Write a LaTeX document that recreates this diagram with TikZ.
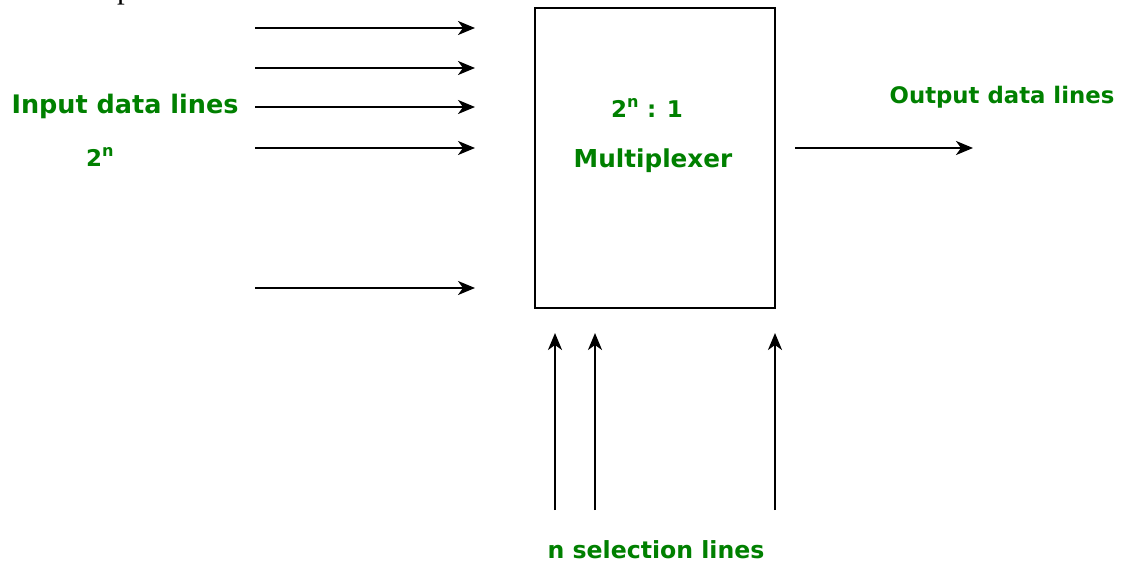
\documentclass[tikz,border=0pt]{standalone}
\usepackage{fontspec}
\setmainfont{DejaVu Sans}
\newfontfamily\serifcut{Liberation Serif}
\usetikzlibrary{arrows.meta}
\definecolor{gfggreen}{RGB}{0,128,0}
\tikzset{
  conn/.style={line width=2.2pt, -{Stealth[length=17pt,width=14pt,inset=5pt]}},
  lbl/.style={text=gfggreen, anchor=base, inner sep=0pt, font=\bfseries\fontsize{#1}{#1}\selectfont},
  lbl/.default=24,
  muxbox/.style={draw, line width=2.2pt, minimum width=240pt, minimum height=300pt, inner sep=0pt}
}
\begin{document}
\begin{tikzpicture}[x=1pt,y=-1pt]
\useasboundingbox (0,0) rectangle (1121,562);
% clipped caption text at the very top (only its lowest part is visible)
\node[anchor=base east, inner sep=0pt, font=\serifcut\fontsize{31}{34}\selectfont] (cut) at (465,-1.5) {ected output based on the Select line.};
% multiplexer box
\node[muxbox] (mux) at (655,158) {};
\node[lbl=23] (ratio) at (647,117) {2\textsuperscript{n} : 1};
\node[lbl=24.7] (mname) at (653,167) {Multiplexer};
% input lines
\foreach \i/\y in {1/28,2/68,3/107,4/148,5/288}{
  \coordinate (in\i s) at (255,\y);
  \coordinate (in\i e) at (475,\y);
  \draw[conn] (in\i s) -- (in\i e);
}
\node[lbl=25.5] (inlbl) at (125,113) {Input data lines};
\node[lbl=23] (inpow) at (100,166) {2\textsuperscript{n}};
% output line
\coordinate (outs) at (795,148);
\coordinate (oute) at (973,148);
\draw[conn] (outs) -- (oute);
\node[lbl=22.8] (outlbl) at (1002,103) {Output data lines};
% selection lines
\foreach \i/\x in {1/555,2/595,3/775}{
  \coordinate (sel\i s) at (\x,510);
  \coordinate (sel\i e) at (\x,333);
  \draw[conn] (sel\i s) -- (sel\i e);
}
\node[lbl=23.6] (sellbl) at (656,558) {n selection lines};
\end{tikzpicture}
\end{document}
